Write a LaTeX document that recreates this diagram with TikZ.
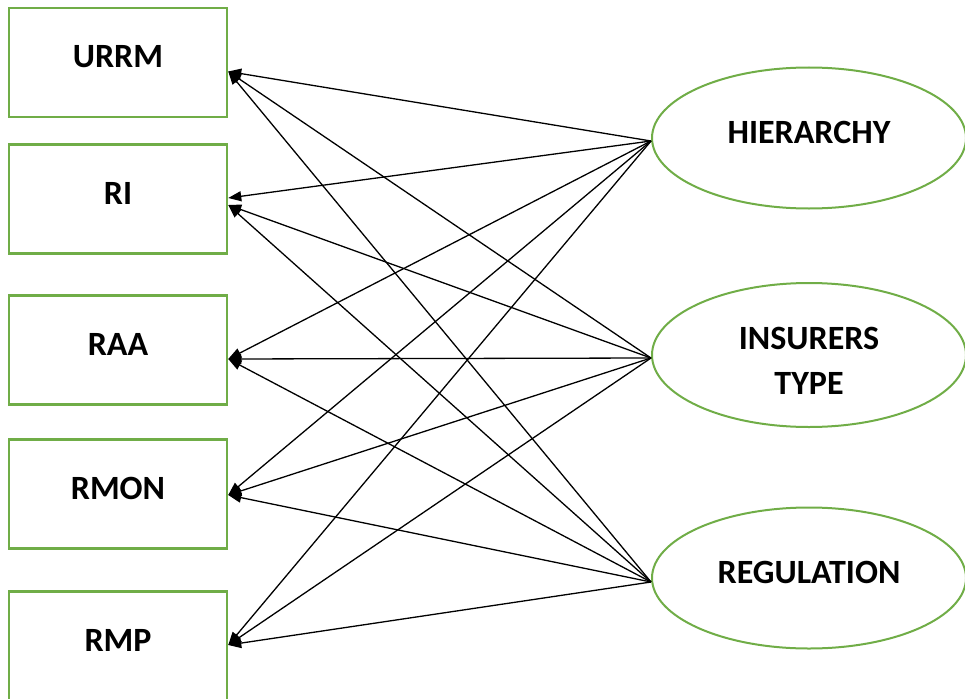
\documentclass[tikz,border=0pt]{standalone}
\usepackage{fontspec}
\setmainfont{Carlito}
\usetikzlibrary{arrows.meta, shapes.geometric, positioning}
\definecolor{vgreen}{RGB}{112,173,71}
\tikzset{
->, % every path points at a box
>={Triangle[length=13pt,width=10pt]}, % filled heads
every edge/.style={draw, line width=1.3pt}, % thin black connectors
measure/.style={draw=vgreen, line width=2.5pt, minimum width=218pt, minimum height=109pt, inner sep=0pt, text depth=12pt}, % left boxes
factor/.style={ellipse, draw=vgreen, line width=2pt, minimum width=314pt, minimum height=141pt, inner sep=0pt}, % right ellipses
lbl/.style={font=\bfseries\fontsize{34}{45}\selectfont},
}

\begin{document}
\begin{tikzpicture}[x=1pt, y=-1pt]
  \useasboundingbox (0,0) rectangle (965,698);

  \node[measure, lbl] (urrm) at (118,62.5) {URRM};
  \node[measure, lbl] (ri) at (118,199) {RI};
  \node[measure, lbl] (raa) at (118,350) {RAA};
  \node[measure, lbl] (rmon) at (118,494) {RMON};
  \node[measure, lbl] (rmp) at (118,646) {RMP};

  \node[factor, lbl, text depth=12pt] (hier) at (809,138) {HIERARCHY};
  \node[factor, lbl, align=center, text height=79pt, minimum height=144pt] (ins) at (809,355) {INSURERS\\TYPE};
  \node[factor, lbl, text depth=12pt] (reg) at (809,578) {REGULATION};

  % start and end points
  \coordinate (ph) at ([yshift=-3pt]hier.west);
  \coordinate (pi) at ([yshift=-3pt]ins.west);
  \coordinate (pr) at ([yshift=-4pt]reg.west);
  \coordinate (turrm) at ([yshift=-9pt]urrm.east);
  \coordinate (tri) at ([yshift=1pt]ri.east);
  \coordinate (tri2) at ([yshift=-6pt]ri.east);
  \coordinate (traa) at ([yshift=-9pt]raa.east);
  \coordinate (trmon) at ([yshift=-1pt]rmon.east);
  \coordinate (trmp) at ([yshift=1pt]rmp.east);

  \path (ph) edge (turrm) edge (tri) edge (traa) edge (trmon) edge (trmp)
        (pi) edge (turrm) edge (tri2) edge (traa) edge (trmon) edge (trmp)
        (pr) edge (turrm) edge (tri2) edge (traa) edge (trmon) edge (trmp);
\end{tikzpicture}
\end{document}
